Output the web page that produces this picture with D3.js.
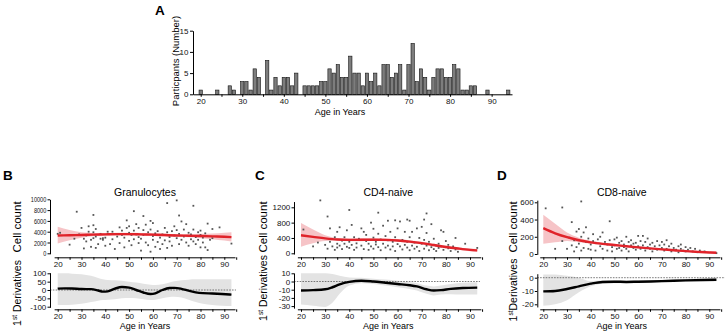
<!DOCTYPE html>
<html><head><meta charset="utf-8">
<script src="https://cdn.jsdelivr.net/npm/d3@7"></script>
<style>
body{margin:0;background:#fff}
svg{display:block;font-family:"Liberation Sans",Arial,sans-serif}
</style>
</head><body><script>
// ---------- DATA ----------
const histAges   = [20,24,27,28,30,31,32,33,34,36,37,38,39,40,41,42,43,45,46,47,48,49,50,51,52,53,54,55,56,57,58,59,60,61,62,63,64,65,66,67,68,69,70,71,72,73,74,75,76,77,78,79,80,81,82,83,84,85,86,89,94];
const histCounts = [1,1,2,1,3,3,1,6,4,8,1,4,2,4,4,2,5,2,2,2,2,3,3,6,5,7,4,4,9,5,5,2,5,3,5,2,7,7,4,5,7,1,7,12,3,6,4,1,4,6,6,4,4,7,6,1,1,2,2,1,1];
const histYTicks = [0,5,10,15];
const ageTicks = [20,25,30,35,40,45,50,55,60,65,70,75,80,85,90,95];

const granulocytes = [[20,3600],[21,3800],[25,1600],[27,2700],[28,7700],[29,3500],[30,4700],[31,900],[31,2700],[32,3300],[32,2200],[33,4000],[33,5000],[34,2500],[34,1200],[35,5200],[35,3900],[35,7100],[35,2800],[36,4500],[36,1000],[36,3100],[37,1700],[38,3600],[38,2700],[39,2800],[39,2500],[40,2900],[40,1400],[41,4000],[41,3600],[42,1700],[43,2600],[43,4000],[44,800],[45,3100],[46,4800],[46,1900],[47,4200],[47,3400],[48,2900],[48,1100],[49,6100],[49,4700],[50,3800],[50,2300],[50,5000],[51,3400],[51,1500],[52,7800],[52,4200],[52,2600],[53,3500],[53,5400],[54,1900],[54,3000],[54,4700],[55,2700],[55,500],[56,6900],[56,4300],[56,3400],[57,2000],[57,5300],[58,1500],[58,3900],[59,6000],[59,300],[59,4400],[60,2500],[60,3200],[60,5600],[61,1200],[61,3700],[62,2100],[62,4100],[63,2900],[63,800],[64,3500],[64,1700],[65,4700],[65,2400],[66,9300],[66,3900],[66,1000],[67,3000],[67,2200],[68,4100],[68,1400],[69,3300],[69,5000],[70,9800],[70,2800],[70,4300],[71,7000],[71,1700],[71,3600],[72,2500],[72,5900],[73,3100],[73,4400],[74,2000],[74,5400],[75,3800],[75,1400],[76,2600],[76,3500],[77,8800],[77,4400],[77,2200],[78,3000],[78,1700],[79,3900],[79,2500],[80,4200],[80,1100],[80,3400],[81,2000],[81,2900],[82,3700],[82,1100],[83,5500],[83,600],[84,2500],[85,4500],[85,2800],[88,4800],[93,1800]];
const cd4naive = [[21,620],[25,180],[27,280],[28,1380],[30,220],[31,960],[31,120],[32,650],[32,300],[33,180],[34,420],[34,90],[35,560],[35,250],[35,150],[36,680],[36,200],[37,330],[37,110],[38,250],[38,420],[39,170],[39,600],[40,1130],[40,300],[40,140],[41,740],[41,220],[42,420],[42,90],[43,260],[43,150],[44,380],[45,650],[45,200],[46,560],[46,110],[47,320],[47,480],[48,250],[48,90],[49,800],[49,180],[50,410],[50,640],[50,120],[51,300],[51,230],[52,1060],[52,510],[52,160],[53,360],[53,80],[54,720],[54,250],[55,450],[55,150],[56,850],[56,340],[56,200],[57,560],[57,100],[58,300],[58,180],[59,860],[59,420],[59,60],[60,240],[60,650],[61,830],[61,180],[62,350],[62,100],[63,560],[63,220],[64,880],[64,300],[64,150],[65,850],[65,420],[65,80],[66,560],[66,200],[67,280],[67,120],[68,650],[68,170],[69,400],[69,60],[70,690],[70,250],[71,880],[71,350],[71,120],[72,1040],[72,530],[72,200],[73,300],[73,80],[74,760],[74,160],[75,380],[75,110],[76,200],[76,60],[77,250],[77,140],[78,600],[78,180],[79,560],[79,90],[80,160],[80,320],[81,130],[81,220],[82,60],[83,180],[84,400],[84,100],[85,40],[88,250],[93,140]];
const cd8naive = [[21,530],[25,60],[28,540],[28,150],[30,60],[31,190],[32,370],[32,100],[33,30],[33,160],[34,260],[34,80],[35,290],[35,120],[36,610],[36,40],[36,200],[37,250],[37,70],[38,310],[38,140],[39,60],[39,180],[40,110],[40,50],[41,230],[41,150],[42,130],[42,40],[43,170],[44,90],[44,200],[45,250],[45,60],[46,140],[47,110],[47,40],[48,380],[48,160],[49,80],[49,30],[50,170],[50,100],[51,60],[51,190],[52,130],[52,70],[53,150],[53,40],[54,110],[54,80],[55,200],[55,60],[56,140],[56,30],[57,100],[57,160],[58,70],[58,120],[59,50],[59,130],[60,210],[60,90],[61,60],[61,150],[62,210],[62,100],[63,40],[63,140],[64,80],[64,180],[65,110],[65,60],[66,130],[66,30],[67,90],[68,150],[68,50],[69,100],[70,70],[70,140],[71,40],[71,110],[72,160],[72,60],[73,90],[74,30],[74,120],[75,70],[76,50],[77,90],[77,20],[78,60],[78,110],[79,40],[80,80],[80,30],[81,50],[82,70],[83,30],[84,60],[85,20],[86,40],[88,30],[93,10]];

const fitAges = [20,25,30,35,40,45,50,55,60,65,70,75,80,85,90,93];
const granFit = [3300,3350,3400,3450,3500,3550,3550,3500,3450,3380,3300,3250,3200,3130,3060,3000];
const granLo  = [1800,2400,2900,3150,3250,3300,3300,3250,3200,3130,3050,2950,2800,2600,2350,2200];
const granHi  = [4900,4300,3900,3750,3750,3800,3800,3750,3700,3630,3550,3550,3600,3650,3800,3900];
const cd4Fit = [470,430,390,360,350,352,355,350,335,305,265,215,165,125,90,75];
const cd4Lo  = [170,260,320,325,315,315,320,315,300,270,230,180,130,90,55,35];
const cd4Hi  = [790,620,470,400,385,390,390,385,370,340,300,250,200,160,125,115];
const cd8Fit = [300,240,195,160,135,118,105,90,77,65,54,44,33,25,18,15];
const cd8Lo  = [120,135,150,135,118,105,93,80,68,57,46,36,25,16,8,4];
const cd8Hi  = [455,350,250,190,155,132,117,100,86,73,62,52,41,34,28,26];

const granDerivAges = [20,23,26,30,34,37,39,41,44,47,50,53,56,59,61,64,67,69,72,75,78,81,85,89,93];
const granDeriv   = [8,10,9,6,5,-3,-10,-8,8,18,14,0,-15,-24,-20,0,12,13,7,-4,-14,-19,-21,-24,-28];
const granDerivLo = [-90,-90,-88,-82,-72,-64,-60,-58,-55,-50,-48,-50,-55,-60,-58,-50,-42,-40,-45,-58,-72,-82,-90,-94,-96];
const granDerivHi = [100,100,98,95,85,72,64,60,58,55,50,45,38,32,30,35,45,52,58,62,64,64,64,64,64];
const cd4DerivAges = [20,25,30,33,36,40,45,50,55,60,65,68,72,75,78,82,87,93];
const cd4Deriv   = [-11,-10.5,-9.5,-7,-3.5,-0.5,1,0,-1.5,-3,-4.5,-6,-9.5,-11,-10.5,-9,-8,-7.5];
const cd4DerivLo = [-28,-29.5,-31,-26,-15,-5,-2,-3,-5,-7,-9,-11,-15,-17,-16,-15.5,-16,-16];
const cd4DerivHi = [10,10,10,9,7,5,4.5,3.5,2.5,1,-1,-2,-5,-6,-5,-3,-1.5,-1];
const cd8DerivAges = [20,25,30,35,40,45,50,55,60,70,80,93];
const cd8Deriv   = [-10.3,-10,-8.5,-6.5,-4.5,-3.2,-3,-3.2,-3,-2.6,-2,-1.5];
const cd8DerivLo = [-21,-20,-17,-11,-6.5,-4.5,-4.2,-4.2,-4,-3.5,-3,-2.6];
const cd8DerivHi = [2.5,2.5,1.5,0,-2.5,-2,-1.8,-2.2,-2,-1.7,-1,-0.5];

const granTicks = [0,2000,4000,6000,8000,10000];
const cd4Ticks = [0,400,800,1200];
const cd8Ticks = [0,200,400,600];
const granDTicks = [-100,-50,0,50,100];
const cd4DTicks = [-30,-20,-10,0,10];
const cd8DTicks = [-20,-10,0];

// ---------- DRAW ----------
const W = 726, H = 332;
const svg = d3.select("body").append("svg").attr("width", W).attr("height", H);
const fmt = d => (d < 0 ? "-" + Math.abs(d) : String(d));

function mk(v0, p0, v1, p1, lo, hi) {
  const s = (p1 - p0) / (v1 - v0);
  return d3.scaleLinear().domain([lo, hi]).range([p0 + (lo - v0) * s, p0 + (hi - v0) * s]);
}
function styleAxis(g, fs) {
  g.selectAll("path.domain").attr("stroke", "#000").attr("stroke-width", 1);
  g.selectAll(".tick line").attr("stroke", "#000").attr("stroke-width", 1);
  g.selectAll(".tick text").attr("font-size", fs).attr("fill", "#111").attr("font-family", "Liberation Sans, Arial, sans-serif");
}

// Panel A histogram
(function () {
  const x = d3.scaleLinear().domain([18.15, 94.9]).range([193, 512]);
  const y = d3.scaleLinear().domain([0, 15]).range([94.3, 30.7]);
  const bw = 3.3;
  svg.append("g").selectAll("rect").data(histAges.map((a, i) => ({a, c: histCounts[i]}))).join("rect")
    .attr("x", d => x(d.a) - bw / 2).attr("y", d => y(d.c))
    .attr("width", bw).attr("height", d => y(0) - y(d.c))
    .attr("fill", "#7d7d7d").attr("stroke", "#111").attr("stroke-width", 0.6);
  const gy = svg.append("g").attr("transform", "translate(193,0)")
    .call(d3.axisLeft(y).tickValues(histYTicks).tickFormat(fmt).tickSize(3).tickSizeOuter(0).tickPadding(1.5));
  styleAxis(gy, 8);
  const gx = svg.append("g").attr("transform", "translate(0,94.3)")
    .call(d3.axisBottom(x).tickValues(ageTicks.filter(t => t < 95)).tickFormat(d => d % 10 ? "" : d).tickSize(2.5).tickSizeOuter(0).tickPadding(1.5));
  styleAxis(gx, 8);
  svg.append("text").attr("x", 155).attr("y", 14.5).attr("font-size", 13.5).attr("font-weight", "bold").text("A");
  svg.append("text").attr("x", 340).attr("y", 115).attr("text-anchor", "middle").attr("font-size", 9).text("Age in Years");
  svg.append("text").attr("transform", "translate(178.5,61) rotate(-90)").attr("text-anchor", "middle").attr("font-size", 9.5).text("Particpants (Number)");
})();

function panel(o) {
  const k = (o.x90 - o.x20) / 70;
  const x = d3.scaleLinear().domain([18.5, 94.5]).range([o.x20 - 1.5 * k, o.x20 + 74.5 * k]);
  const yT = mk(0, o.t0, o.tv, o.tp, o.tlo, o.thi);
  const yB = mk(0, o.b0, o.bv, o.bp, o.blo, o.bhi);

  // top: band, points, fit line
  const fit = fitAges.map((a, i) => ({a, v: o.fit[i], lo: o.lo[i], hi: o.hi[i]}));
  svg.append("path").datum(fit)
    .attr("d", d3.area().curve(d3.curveMonotoneX).x(d => x(d.a)).y0(d => yT(d.lo)).y1(d => yT(d.hi)))
    .attr("fill", "#f6c4c7");
  svg.append("g").selectAll("rect").data(o.pts).join("rect")
    .attr("x", d => x(d[0]) - 0.9).attr("y", d => yT(d[1]) - 0.9)
    .attr("width", 1.8).attr("height", 1.8).attr("fill", "#555");
  svg.append("path").datum(fit)
    .attr("d", d3.line().curve(d3.curveMonotoneX).x(d => x(d.a)).y(d => yT(d.v)))
    .attr("fill", "none").attr("stroke", "#e0232a").attr("stroke-width", 2.4);

  const gyT = svg.append("g").attr("transform", `translate(${o.yx},0)`)
    .call(d3.axisLeft(yT).tickValues(o.tTicks).tickFormat(fmt).tickSize(2.5).tickSizeOuter(0).tickPadding(1.2));
  styleAxis(gyT, 8);
  if (o.squeeze) gyT.selectAll(".tick text").attr("textLength", d => String(d).length * 3.1).attr("lengthAdjust", "spacingAndGlyphs");
  const gxT = svg.append("g").attr("transform", "translate(0,257.3)")
    .call(d3.axisBottom(x).tickValues(ageTicks).tickFormat(d => d % 10 ? "" : d).tickSize(2.5).tickSizeOuter(0).tickPadding(1.2));
  styleAxis(gxT, 8);

  // bottom: derivative
  const der = o.dAges.map((a, i) => ({a, v: o.d[i], lo: o.dlo[i], hi: o.dhi[i]}));
  svg.append("path").datum(der)
    .attr("d", d3.area().curve(d3.curveMonotoneX).x(d => x(d.a)).y0(d => yB(d.lo)).y1(d => yB(d.hi)))
    .attr("fill", "#e3e3e3");
  svg.append("line").attr("x1", o.yx).attr("x2", o.dashEnd).attr("y1", yB(0)).attr("y2", yB(0))
    .attr("stroke", "#444").attr("stroke-width", 0.7).attr("stroke-dasharray", "1.6,1.2");
  svg.append("path").datum(der)
    .attr("d", d3.line().curve(d3.curveMonotoneX).x(d => x(d.a)).y(d => yB(d.v)))
    .attr("fill", "none").attr("stroke", "#000").attr("stroke-width", 2.4);
  const gyB = svg.append("g").attr("transform", `translate(${o.yx},0)`)
    .call(d3.axisLeft(yB).tickValues(o.bTicks).tickFormat(fmt).tickSize(2.5).tickSizeOuter(0).tickPadding(1.2));
  styleAxis(gyB, 8);
  const gxB = svg.append("g").attr("transform", "translate(0,309.3)")
    .call(d3.axisBottom(x).tickValues(ageTicks).tickFormat(d => d % 10 ? "" : d).tickSize(2.5).tickSizeOuter(0).tickPadding(1.2));
  styleAxis(gxB, 8);

  // labels
  svg.append("text").attr("x", o.lx).attr("y", 180).attr("font-size", 13.5).attr("font-weight", "bold").text(o.letter);
  svg.append("text").attr("x", o.titleX).attr("y", 196).attr("text-anchor", "middle").attr("font-size", 10.5).text(o.title);
  svg.append("text").attr("x", o.titleX).attr("y", 328.5).attr("text-anchor", "middle").attr("font-size", 9).text("Age in Years");
  svg.append("text").attr("transform", `translate(${o.ylx},227) rotate(-90)`).attr("text-anchor", "middle").attr("font-size", 11.5).text("Cell count");
  const t = svg.append("text").attr("transform", `translate(${o.ylx},${o.dly}) rotate(-90)`).attr("text-anchor", "middle").attr("font-size", 10.5);
  t.append("tspan").text("1");
  t.append("tspan").attr("font-size", 6.5).attr("dy", -4).text("st");
  t.append("tspan").attr("dy", 4).text(o.sp + "Derivatives");
}

panel({letter: "B", lx: 3, title: "Granulocytes", titleX: 145, ylx: 20.5, dly: 293, yx: 50,
  x20: 57.7, x90: 224.3, t0: 253.3, tv: 10000, tp: 199.3, tlo: -100, thi: 10000, tTicks: granTicks, squeeze: true,
  b0: 290, bv: 100, bp: 273.3, blo: -104, bhi: 104, bTicks: granDTicks,
  pts: granulocytes, fit: granFit, lo: granLo, hi: granHi,
  dAges: granDerivAges, d: granDeriv, dlo: granDerivLo, dhi: granDerivHi, dashEnd: 236, sp: " "});
panel({letter: "C", lx: 255, title: "CD4-naive", titleX: 388.3, ylx: 266.5, dly: 288, yx: 294,
  x20: 301, x90: 470, t0: 253.3, tv: 1200, tp: 207.3, tlo: -20, thi: 1350, tTicks: cd4Ticks,
  b0: 281.5, bv: 10, bp: 273.3, blo: -32.5, bhi: 10.5, bTicks: cd4DTicks,
  pts: cd4naive, fit: cd4Fit, lo: cd4Lo, hi: cd4Hi,
  dAges: cd4DerivAges, d: cd4Deriv, dlo: cd4DerivLo, dhi: cd4DerivHi, dashEnd: 480, sp: " "});
panel({letter: "D", lx: 497, title: "CD8-naive", titleX: 621.7, ylx: 517, dly: 290, yx: 537.3,
  x20: 543.3, x90: 709.3, t0: 254, tv: 600, tp: 202.3, tlo: -4, thi: 625, tTicks: cd8Ticks,
  b0: 277.7, bv: -20, bp: 304.3, blo: -22, bhi: 3, bTicks: cd8DTicks,
  pts: cd8naive, fit: cd8Fit, lo: cd8Lo, hi: cd8Hi,
  dAges: cd8DerivAges, d: cd8Deriv, dlo: cd8DerivLo, dhi: cd8DerivHi, dashEnd: 725, sp: ""});
</script></body></html>
